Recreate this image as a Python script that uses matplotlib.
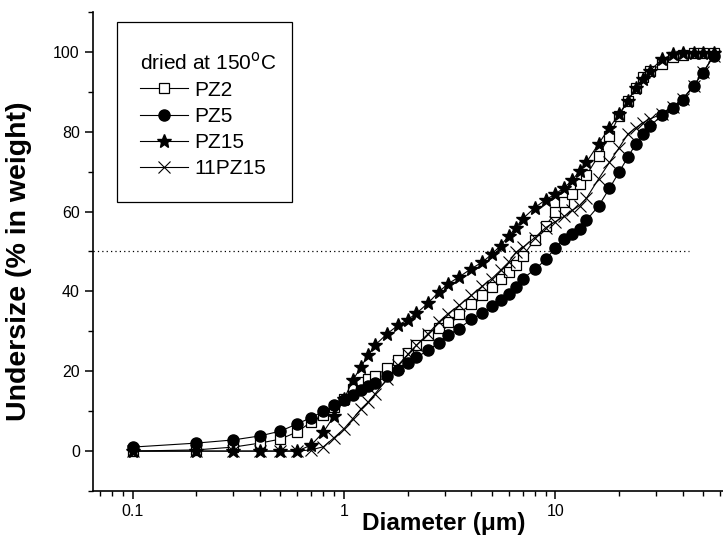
import matplotlib
matplotlib.use("Agg")
import matplotlib.pyplot as plt
from matplotlib.patches import Rectangle
from matplotlib.ticker import FixedLocator, LogLocator, NullFormatter, FuncFormatter

plt.rcParams['font.family'] = ['Liberation Sans', 'DejaVu Sans']

# particle diameter (um) and cumulative undersize (% in weight)
diam = [0.1, 0.2, 0.3, 0.4, 0.5, 0.6, 0.7, 0.8, 0.9, 1.0,
        1.1, 1.2, 1.3, 1.4,
        1.6, 1.8, 2.0, 2.2, 2.5, 2.8, 3.1, 3.5, 4.0, 4.5, 5.0, 5.5, 6.0, 6.5, 7.0, 8.0, 9.0,
        10, 11, 12, 13, 14, 16, 18, 20, 22, 24, 26, 28, 32, 36, 40, 45, 50, 56]

pz2 = [0, 0.3, 1, 2, 3, 4.8, 7.3, 9, 11, 13,
       15.5, 17.2, 18, 18.8,
       20.7, 22.7, 24.6, 26.5, 29, 30.8, 32.3, 34.4, 36.9, 39, 41, 43, 44.8, 46.6, 48.8, 53, 56.5,
       59.8, 62.3, 64.5, 67, 69.1, 74, 79, 84, 87.8, 91, 93.6, 95.3, 97, 98.6, 99.3, 99.6, 99.6, 99.8]

pz5 = [1, 2, 2.8, 3.8, 5, 6.8, 8.4, 10, 11.5, 12.9,
       14.1, 15.2, 16.2, 17.1,
       18.8, 20.4, 22, 23.5, 25.2, 27.2, 29, 30.7, 33, 34.6, 36.3, 37.8, 39.3, 41.2, 43.2, 45.5, 48,
       50.9, 53.1, 54.4, 55.7, 57.8, 61.4, 65.8, 69.9, 73.6, 77, 79.4, 81.5, 84.1, 86, 88, 91.5, 94.8, 99]

pz15 = [0, 0, 0, 0, 0, 0, 1.5, 4.8, 8.9, 13,
        17.7, 21, 24, 26.5,
        29.4, 31.5, 32.9, 34.5, 37.1, 39.8, 41.9, 43.6, 45.7, 47.3, 49.3, 51.5, 53.8, 56, 58.2, 61, 63,
        64.4, 66, 67.8, 70.2, 72.3, 77, 81, 84.4, 87.8, 91, 93.2, 95.3, 98.2, 99.4, 99.6, 99.6, 99.7, 99.7]

pz11_15 = [0, 0, 0, 0, 0, 0, 0.3, 1.1, 3.4, 5.6,
           8.1, 10.5, 12.3, 14.3,
           18, 21.5, 24.2, 26.5, 29.4, 32.3, 34.4, 36.5, 39, 41.3, 43.2, 45.3, 47.3, 49.8, 51, 53.5, 56,
           57.5, 58.8, 60.3, 61.5, 63.3, 68.2, 72.3, 76, 79.4, 81, 82.3, 83.2, 84.5, 86.3, 88.3, 91.5, 95, 99]

fig = plt.figure(figsize=(7.23, 5.44), dpi=100)
ax = fig.add_axes([0.1286, 0.0974, 0.8714, 0.8806])

lw = 0.8
ax.plot(diam, pz2, color='black', lw=lw, marker='s', ms=7, mfc='white', mec='black', mew=0.9, label='PZ2')
ax.plot(diam, pz11_15, color='black', lw=lw, marker='x', ms=9, mec='black', mew=0.8, label='11PZ15', zorder=2.1)
ax.plot(diam, pz5, color='black', lw=lw, marker='o', ms=8, mfc='black', mec='black', label='PZ5', zorder=2.2)
ax.plot(diam, pz15, color='black', lw=lw, marker='*', ms=10.5, mfc='black', mec='black', label='PZ15', zorder=2.3)

# 50 % reference line
ax.hlines(50, 0.065, 43, colors='black', linestyles=(0, (1, 2.5)), lw=0.9)

ax.set_xscale('log')
ax.set_xlim(0.065, 62)
ax.set_ylim(-10, 110)

ax.xaxis.set_major_locator(FixedLocator([0.1, 1, 10]))
ax.xaxis.set_major_formatter(FuncFormatter(lambda v, p: '%g' % v))
ax.xaxis.set_minor_locator(LogLocator(base=10, subs=range(2, 10)))
ax.xaxis.set_minor_formatter(NullFormatter())

ax.set_yticks([0, 20, 40, 60, 80, 100])
ax.set_yticks([-10, 10, 30, 50, 70, 90, 110], minor=True)

ax.spines['top'].set_visible(False)
ax.spines['right'].set_visible(False)
ax.spines['left'].set_linewidth(1.2)
ax.spines['bottom'].set_linewidth(1.2)
ax.tick_params(which='major', direction='out', length=6, width=1.1, labelsize=11.5)
ax.tick_params(which='minor', direction='out', length=3.5, width=1.0)

ax.set_xlabel('Diameter (\u03bcm)', fontsize=17.5, fontweight='bold')
ax.xaxis.set_label_coords(0.556, -0.044)
ax.set_ylabel('Undersize (% in weight)', fontsize=20.5, fontweight='bold')
ax.yaxis.set_label_coords(-0.096, 0.48)

handles, labels = ax.get_legend_handles_labels()
order = ['PZ2', 'PZ5', 'PZ15', '11PZ15']
hs = [handles[labels.index(n)] for n in order]
leg = ax.legend(hs, order, title='dried at 150$^{\\rm o}$C', loc='upper left',
                bbox_to_anchor=(0.0746, 0.918), borderaxespad=0, fontsize=15,
                title_fontsize=15, frameon=False,
                handlelength=2.3, handletextpad=0.3, labelspacing=0.35,
                borderpad=0, alignment='left')

# legend box drawn separately (text sits off-centre in the original)
ax.add_patch(Rectangle((0.0381, 0.603), 0.2778, 0.376, transform=ax.transAxes,
                       fill=False, edgecolor='black', lw=0.9, zorder=5))

fig.savefig('out.png', dpi=100)
